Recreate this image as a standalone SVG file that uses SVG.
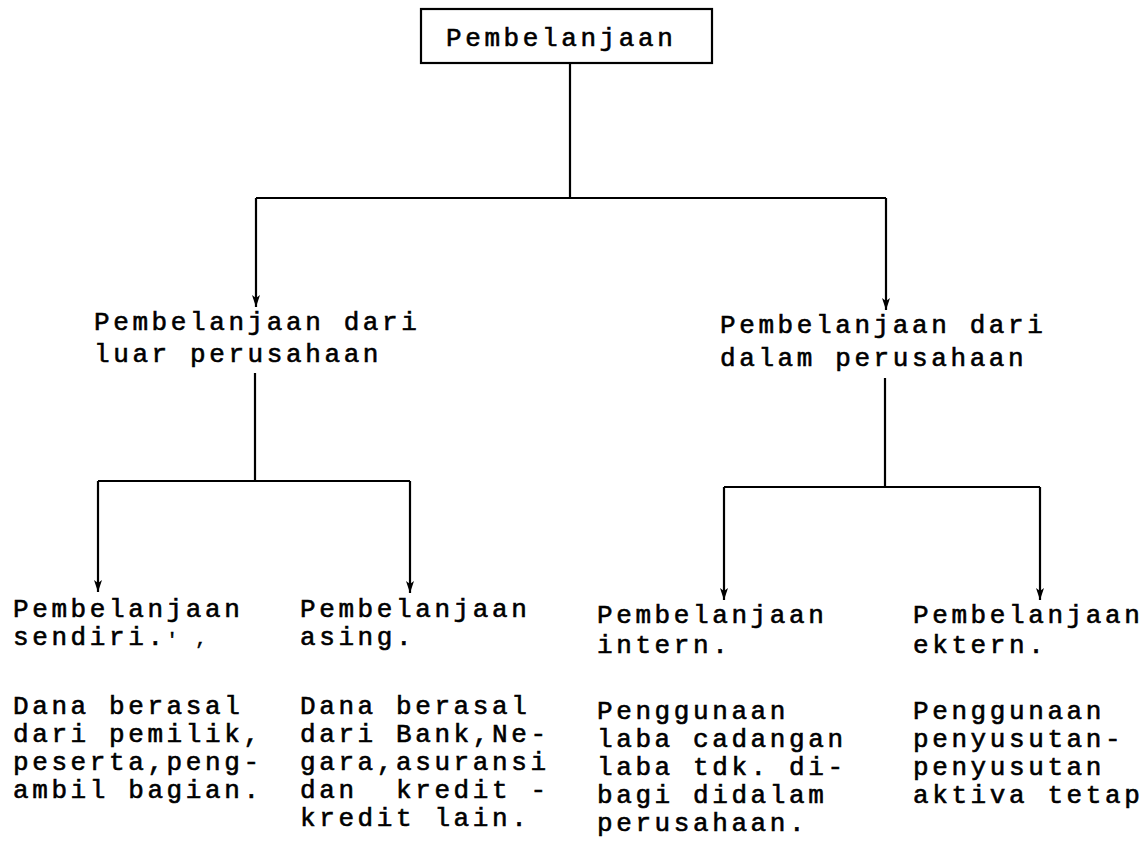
<svg xmlns="http://www.w3.org/2000/svg" width="1147" height="842" viewBox="0 0 1147 842">
<defs>
<marker id="ah" viewBox="0 0 12 8" refX="12" refY="4" markerWidth="12" markerHeight="8" markerUnits="userSpaceOnUse" orient="auto">
<path d="M0,0 L12,4 L0,8 L3,4 Z" fill="#000"/>
</marker>
<style>
.t{font-family:"Liberation Mono","Courier New",monospace;font-size:26px;letter-spacing:3.6px;fill:#000;stroke:#000;stroke-width:0.6}
.ln{fill:none;stroke:#000;stroke-width:2.2}
.ar{fill:none;stroke:#000;stroke-width:2.2;marker-end:url(#ah)}
.box{fill:#fff;stroke:#000;stroke-width:2.2}
</style>
</defs>
<rect width="1147" height="842" fill="#fff"/>
<g id="connectors">
<path class="ln" d="M570,63 V198 M256,198 H886"/>
<path class="ar" d="M256,198 V307"/>
<path class="ar" d="M886,198 V310"/>
<path class="ln" d="M255,373 V481 M98,481 H410"/>
<path class="ar" d="M98,481 V592"/>
<path class="ar" d="M410,481 V593"/>
<path class="ln" d="M885,378 V487 M724,487 H1040"/>
<path class="ar" d="M724,487 V600"/>
<path class="ar" d="M1040,487 V600"/>
</g>
<g id="root">
<rect class="box" x="421" y="9" width="291" height="54"/>
<text class="t" x="446" y="46">Pembelanjaan</text>
</g>
<g id="luar">
<text class="t" x="94" y="330">Pembelanjaan dari</text>
<text class="t" x="94" y="362">luar perusahaan</text>
</g>
<g id="dalam">
<text class="t" x="720" y="333">Pembelanjaan dari</text>
<text class="t" x="720" y="366">dalam perusahaan</text>
</g>
<g id="sendiri">
<text class="t" x="13" y="617">Pembelanjaan</text>
<text class="t" x="13" y="645">sendiri.<tspan font-size="18">' ,</tspan></text>
<text class="t" x="13" y="714">Dana berasal</text>
<text class="t" x="13" y="742">dari pemilik,</text>
<text class="t" x="13" y="770">peserta,peng-</text>
<text class="t" x="13" y="798">ambil bagian.</text>
</g>
<g id="asing">
<text class="t" x="300" y="617">Pembelanjaan</text>
<text class="t" x="300" y="645">asing.</text>
<text class="t" x="300" y="714">Dana berasal</text>
<text class="t" x="300" y="742">dari Bank,Ne-</text>
<text class="t" x="300" y="770">gara,asuransi</text>
<text class="t" x="300" y="798" xml:space="preserve">dan  kredit -</text>
<text class="t" x="300" y="826">kredit lain.</text>
</g>
<g id="intern">
<text class="t" x="597" y="623">Pembelanjaan</text>
<text class="t" x="597" y="653">intern.</text>
<text class="t" x="597" y="719">Penggunaan</text>
<text class="t" x="597" y="747">laba cadangan</text>
<text class="t" x="597" y="775">laba tdk. di-</text>
<text class="t" x="597" y="803">bagi didalam</text>
<text class="t" x="597" y="831">perusahaan.</text>
</g>
<g id="ektern">
<text class="t" x="913" y="623">Pembelanjaan</text>
<text class="t" x="913" y="653">ektern.</text>
<text class="t" x="913" y="719">Penggunaan</text>
<text class="t" x="913" y="747">penyusutan-</text>
<text class="t" x="913" y="775">penyusutan</text>
<text class="t" x="913" y="803">aktiva tetap</text>
</g>
</svg>
